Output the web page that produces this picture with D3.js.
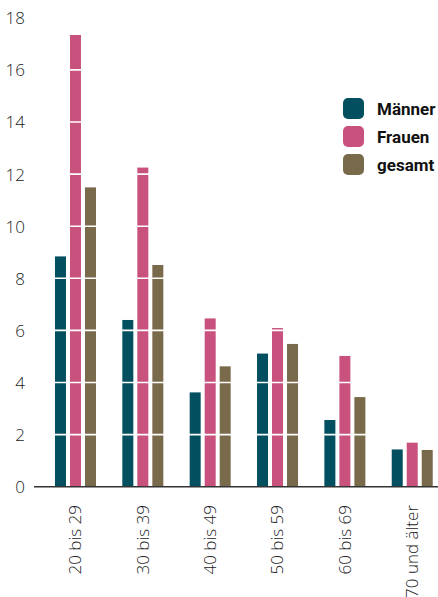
<!DOCTYPE html>
<html><head><meta charset="utf-8">
<script src="https://cdn.jsdelivr.net/npm/d3@7"></script>
<style>
html,body{margin:0;padding:0;background:#fff;}
svg{display:block;}
.tick text{font-family:"Open Sans","Noto Sans",sans-serif;font-weight:300;}
</style></head><body>
<svg id="c" width="438" height="597"></svg>
<script>
const categories = ["20 bis 29","30 bis 39","40 bis 49","50 bis 59","60 bis 69","70 und älter"];
const seriesNames = ["Männer","Frauen","gesamt"];
const maenner = [8.84, 6.40, 3.62, 5.11, 2.56, 1.43];
const frauen  = [17.34, 12.25, 6.46, 6.09, 5.02, 1.69];
const gesamt  = [11.49, 8.51, 4.62, 5.48, 3.44, 1.41];
const yTicks = [0,2,4,6,8,10,12,14,16,18];
const colors = ["#024f60","#c8517e","#7a6a4c"];

const series = [maenner, frauen, gesamt];
const svg = d3.select("#c");

const y = d3.scaleLinear().domain([0,18]).range([486.7,17.8]);
const x0 = d3.scaleBand().domain(categories).range([41.8,445.9]).padding(0);
const x1 = d3.scaleBand().domain(seriesNames).range([-20.5,20.5]).paddingInner(4/15).paddingOuter(0);

// bars
const g = svg.append("g");
categories.forEach((c,i)=>{
  seriesNames.forEach((s,j)=>{
    const v = series[j][i];
    g.append("rect")
      .attr("x", x0(c)+x0.bandwidth()/2 + x1(s))
      .attr("y", y(v))
      .attr("width", x1.bandwidth())
      .attr("height", y(0)-y(v))
      .attr("fill", colors[j]);
  });
});

// white grid lines over bars
svg.append("g").selectAll("line").data(yTicks.filter(t=>t>0)).join("line")
  .attr("x1",35).attr("x2",438)
  .attr("y1",d=>y(d)).attr("y2",d=>y(d))
  .attr("stroke","#fff").attr("stroke-width",1.6);

// baseline
svg.append("line").attr("x1",34).attr("x2",438).attr("y1",y(0)).attr("y2",y(0))
  .attr("stroke","#333").attr("stroke-width",1.5);

// y axis
const yAxis = d3.axisLeft(y).tickValues(yTicks).tickSize(0).tickPadding(0);
const ya = svg.append("g").attr("transform","translate(25,0)").call(yAxis);
ya.select(".domain").remove();
ya.selectAll("text").attr("font-size",17).attr("fill","#222").attr("dy","0.35em");

// x axis
const xAxis = d3.axisBottom(x0).tickSize(0).tickPadding(0);
const xa = svg.append("g").attr("transform","translate(0,505)").call(xAxis);
xa.select(".domain").remove();
xa.selectAll("text").attr("font-size",17).attr("fill","#222")
  .attr("transform","rotate(-90)").attr("text-anchor","end")
  .attr("x",0).attr("y",0).attr("dy","0.35em");

// legend
const lg = svg.append("g");
seriesNames.forEach((s,j)=>{
  lg.append("rect").attr("x",343).attr("y",98+j*28).attr("width",21).attr("height",21)
    .attr("rx",5).attr("fill",colors[j]);
  lg.append("text").attr("x",377).attr("y",109+j*28).attr("dy","0.35em")
    .attr("font-family","'Liberation Sans Narrow','Roboto',sans-serif").attr("font-weight","bold")
    .attr("font-size",17).attr("fill","#111").text(s);
});
</script>
</body></html>
